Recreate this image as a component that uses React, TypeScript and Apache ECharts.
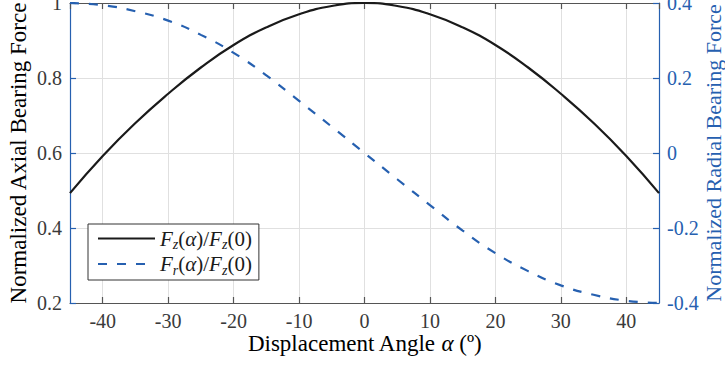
import React, { useEffect, useRef } from "react";
import * as echarts from "echarts";

const angles = [-45, -40, -35, -30, -25, -20, -15, -10, -5, 0, 5, 10, 15, 20, 25, 30, 35, 40, 45];
const axialForce = [0.493, 0.592, 0.68, 0.758, 0.828, 0.888, 0.935, 0.97, 0.992, 1.0, 0.992, 0.97, 0.935, 0.888, 0.828, 0.758, 0.68, 0.592, 0.493];
const radialForce = [0.4, 0.394, 0.378, 0.353, 0.315, 0.267, 0.207, 0.139, 0.07, 0, -0.07, -0.139, -0.207, -0.267, -0.315, -0.353, -0.378, -0.394, -0.4];

const BLUE = "#2660b0";
const FONT = "Liberation Serif";

export default function App() {
  const ref = useRef<HTMLDivElement>(null);
  useEffect(() => {
    if (!ref.current) return;
    const chart = echarts.init(ref.current, null, { renderer: "svg" });
    const legendRich = {
      i: { fontFamily: FONT, fontStyle: "italic", fontSize: 21, color: "#1a1a1a" },
      n: { fontFamily: FONT, fontSize: 21, color: "#1a1a1a" },
      s: { fontFamily: FONT, fontStyle: "italic", fontSize: 14, color: "#1a1a1a", padding: [12, 0, 0, 0] },
    };
    const tickLabel = (color: string) => ({
      fontFamily: FONT,
      fontSize: 20,
      fontWeight: "normal",
      color,
      margin: 8,
    });
    chart.setOption({
      animation: false,
      textStyle: { fontFamily: FONT },
      grid: { left: 70, right: 66, top: 3, bottom: 66, containLabel: false, outerBoundsMode: "none" },
      legend: {
        show: true,
        orient: "vertical",
        left: 88,
        top: 224,
        padding: [4, 7, 3, 9],
        itemGap: 2,
        itemWidth: 57,
        itemHeight: 20,
        borderColor: "#333",
        borderWidth: 1,
        backgroundColor: "#fff",
        itemStyle: { opacity: 0, borderWidth: 0 },
        data: ["Fz", "Fr"],
        formatter: (name: string) =>
          name === "Fz"
            ? "{i|F}{s|z}{n|(}{i|α}{n|)/}{i|F}{s|z}{n|(0)}"
            : "{i|F}{s|r}{n|(}{i|α}{n|)/}{i|F}{s|z}{n|(0)}",
        textStyle: { fontFamily: FONT, fontSize: 21, rich: legendRich },
      },
      xAxis: [
        {
          type: "value",
          position: "bottom",
          min: -45,
          max: 45,
          splitNumber: 9,
          name: "Displacement Angle {i|α} (º)",
          nameLocation: "middle",
          nameGap: 29,
          nameMoveOverlap: false,
          nameTextStyle: {
            fontFamily: FONT,
            fontSize: 23,
            color: "#000",
            rich: { i: { fontFamily: FONT, fontStyle: "italic", fontSize: 23, color: "#000" } },
          },
          axisLine: { show: true, onZero: false, lineStyle: { color: "#555", width: 1.2 } },
          axisTick: { show: true, inside: true, length: 6, lineStyle: { color: "#555", width: 1.2 } },
          axisLabel: { ...tickLabel("#3a3a3a"), showMinLabel: false, showMaxLabel: false },
          splitLine: { show: true, lineStyle: { color: "#e0e0e0", width: 1 } },
        },
        {
          type: "value",
          position: "top",
          min: -45,
          max: 45,
          splitNumber: 9,
          axisLine: { show: true, onZero: false, lineStyle: { color: "#555", width: 1.2 } },
          axisTick: { show: true, inside: true, length: 6, lineStyle: { color: "#555", width: 1.2 } },
          axisLabel: { show: false },
          splitLine: { show: false },
        },
      ],
      yAxis: [
        {
          type: "value",
          position: "left",
          min: 0.2,
          max: 1,
          interval: 0.2,
          name: "Normalized Axial Bearing Force",
          nameLocation: "middle",
          nameGap: 40,
          nameMoveOverlap: false,
          nameTextStyle: { fontFamily: FONT, fontSize: 23, color: "#000" },
          axisLine: { show: true, onZero: false, lineStyle: { color: BLUE, width: 1.2 } },
          axisTick: { show: true, inside: true, length: 6, lineStyle: { color: BLUE, width: 1.2 } },
          axisLabel: tickLabel("#3a3a3a"),
          splitLine: { show: true, lineStyle: { color: "#e0e0e0", width: 1 } },
        },
        {
          type: "value",
          position: "right",
          min: -0.4,
          max: 0.4,
          interval: 0.2,
          name: "Normalized Radial Bearing Force",
          nameLocation: "middle",
          nameGap: 43,
          nameRotate: 90,
          nameMoveOverlap: false,
          nameTextStyle: { fontFamily: FONT, fontSize: 22, color: BLUE },
          axisLine: { show: true, onZero: false, lineStyle: { color: BLUE, width: 1.2 } },
          axisTick: { show: true, inside: true, length: 6, lineStyle: { color: BLUE, width: 1.2 } },
          axisLabel: tickLabel(BLUE),
          splitLine: { show: false },
        },
      ],
      series: [
        {
          name: "Fz",
          type: "line",
          xAxisIndex: 0,
          yAxisIndex: 0,
          data: angles.map((a, i) => [a, axialForce[i]]),
          smooth: 0.5,
          symbol: "none",
          showSymbol: false,
          lineStyle: { color: "#1a1a1a", width: 2.2 },
          itemStyle: { color: "#1a1a1a" },
        },
        {
          name: "Fr",
          type: "line",
          xAxisIndex: 0,
          yAxisIndex: 1,
          data: angles.map((a, i) => [a, radialForce[i]]),
          smooth: 0.5,
          symbol: "none",
          showSymbol: false,
          lineStyle: { color: BLUE, width: 2.2, type: [9, 10] },
          itemStyle: { color: BLUE },
        },
      ],
    });
    return () => chart.dispose();
  }, []);
  return (
    <div
      ref={ref}
      style={{ position: "fixed", left: 0, top: 0, width: 725, height: 369, background: "#fff" }}
    />
  );
}
